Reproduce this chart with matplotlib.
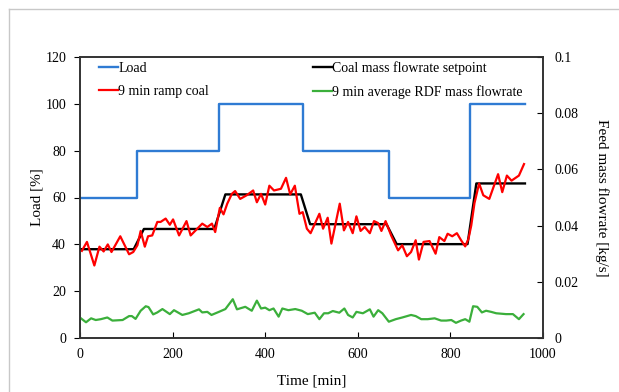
import matplotlib.pyplot as plt
from matplotlib.lines import Line2D

plt.rcParams['font.family'] = ['Liberation Serif', 'DejaVu Serif']

# load profile [%] (step edges in min)
load_t = [0, 123, 123, 300, 300, 482, 482, 667, 667, 843, 843, 961]
load_v = [60, 60, 80, 80, 100, 100, 80, 80, 60, 60, 100, 100]

# coal mass flowrate setpoint [kg/s]
set_t = [0, 116, 138, 290, 314, 477, 497, 662, 684, 837, 856, 961]
set_v = [0.0316, 0.0316, 0.0388, 0.0388, 0.0511, 0.0511, 0.0405, 0.0405,
         0.0334, 0.0334, 0.0550, 0.0550]

# 9 min ramp coal [kg/s]
coal_t = [4, 15, 31, 42, 51, 60, 68, 87, 106, 115, 124, 131, 140, 147, 156,
          167, 174, 185, 194, 201, 214, 230, 239, 264, 275, 285, 292, 302,
          310, 318, 328, 335, 346, 360, 374, 382, 391, 400, 409, 419, 434,
          445, 454, 464, 474, 481, 490, 498, 517, 525, 535, 543, 561, 570,
          579, 589, 597, 606, 615, 626, 635, 644, 651, 660, 672, 687, 696,
          706, 715, 725, 732, 742, 755, 768, 776, 787, 794, 804, 814, 823,
          832, 839, 845, 852, 862, 871, 884, 903, 912, 922, 932, 948, 959]
coal_v = [0.0310, 0.0342, 0.0258, 0.0325, 0.0308, 0.0333, 0.0306, 0.0362,
          0.0298, 0.0306, 0.0330, 0.0381, 0.0325, 0.0362, 0.0365, 0.0413,
          0.0413, 0.0425, 0.0403, 0.0422, 0.0365, 0.0416, 0.0365, 0.0407,
          0.0395, 0.0407, 0.0377, 0.0463, 0.0440, 0.0478, 0.0513, 0.0523,
          0.0495, 0.0508, 0.0525, 0.0483, 0.0513, 0.0475, 0.0542, 0.0525,
          0.0531, 0.0570, 0.0511, 0.0542, 0.0442, 0.0448, 0.0389, 0.0373,
          0.0442, 0.0389, 0.0428, 0.0336, 0.0478, 0.0383, 0.0413, 0.0373,
          0.0433, 0.0381, 0.0395, 0.0373, 0.0416, 0.0409, 0.0381, 0.0416,
          0.0365, 0.0312, 0.0330, 0.0291, 0.0306, 0.0348, 0.0279, 0.0342,
          0.0345, 0.0300, 0.0359, 0.0345, 0.0371, 0.0362, 0.0373, 0.0348,
          0.0326, 0.0353, 0.0400, 0.0480, 0.0550, 0.0508, 0.0495, 0.0583,
          0.0519, 0.0578, 0.0560, 0.0578, 0.0619]

# 9 min average RDF mass flowrate [kg/s]
rdf_t = [2, 13, 24, 34, 45, 59, 70, 92, 106, 112, 120, 131, 142, 148, 158,
         167, 178, 194, 203, 221, 235, 257, 264, 275, 284, 300, 314, 330,
         339, 357, 371, 382, 391, 400, 409, 418, 429, 437, 450, 465, 479,
         492, 507, 517, 527, 536, 546, 560, 571, 579, 589, 597, 611, 626,
         634, 644, 653, 667, 682, 696, 715, 725, 737, 751, 766, 780, 791,
         802, 812, 823, 832, 841, 849, 858, 868, 877, 888, 899, 920, 935,
         948, 958]
rdf_v = [0.0070, 0.0056, 0.0070, 0.0064, 0.0067, 0.0073, 0.0062, 0.0064,
         0.0078, 0.0078, 0.0068, 0.0097, 0.0113, 0.0110, 0.0084, 0.0091,
         0.0103, 0.0085, 0.0099, 0.0082, 0.0088, 0.0102, 0.0091, 0.0093,
         0.0082, 0.0093, 0.0103, 0.0138, 0.0102, 0.0111, 0.0097, 0.0133,
         0.0105, 0.0108, 0.0099, 0.0105, 0.0076, 0.0105, 0.0099, 0.0103,
         0.0097, 0.0085, 0.0090, 0.0067, 0.0088, 0.0088, 0.0096, 0.0090,
         0.0105, 0.0082, 0.0073, 0.0093, 0.0088, 0.0102, 0.0076, 0.0099,
         0.0088, 0.0058, 0.0067, 0.0073, 0.0082, 0.0078, 0.0067, 0.0067,
         0.0070, 0.0062, 0.0062, 0.0064, 0.0054, 0.0062, 0.0067, 0.0058,
         0.0113, 0.0111, 0.0091, 0.0097, 0.0093, 0.0088, 0.0085, 0.0085,
         0.0067, 0.0085]

blue = '#2F7BD3'
green = '#3BAF3B'

fig = plt.figure(figsize=(6.19, 3.92), dpi=100)
ax = fig.add_axes([80/619, 1-338/392, 463/619, 281/392])
ax2 = ax.twinx()

ax.plot(load_t, load_v, color=blue, lw=1.7, label='Load')
ax2.plot(set_t, set_v, color='black', lw=1.7, label='Coal mass flowrate setpoint')
ax2.plot(coal_t, coal_v, color='red', lw=1.6, label='9 min ramp coal')
ax2.plot(rdf_t, rdf_v, color=green, lw=1.6, label='9 min average RDF mass flowrate')

ax.set_xlim(0, 1000)
ax.set_ylim(0, 120)
ax2.set_ylim(0, 0.1)
ax.set_xticks(range(0, 1001, 200))
ax.set_yticks(range(0, 121, 20))
ax2.set_yticks([0, 0.02, 0.04, 0.06, 0.08, 0.1])
ax2.set_yticklabels(['0', '0.02', '0.04', '0.06', '0.08', '0.1'])

ax.tick_params(axis='x', direction='in', length=4, labelsize=10, pad=7)
ax.tick_params(axis='y', direction='out', length=4, labelsize=10, pad=6)
ax2.tick_params(axis='y', direction='in', length=4, labelsize=10, pad=8)
for a in (ax, ax2):
    for s in a.spines.values():
        s.set_color('#333333')
        s.set_linewidth(1.2)

ax.set_xlabel('Time [min]', fontsize=11, labelpad=10)
ax.set_ylabel('Load [%]', fontsize=11, labelpad=1)
ax2.set_ylabel('Feed mass flowrate [kg/s]', fontsize=11, rotation=-90, labelpad=22)

h1, l1 = ax.get_legend_handles_labels()
h2, l2 = ax2.get_legend_handles_labels()
handles = [h1[0], h2[1], h2[0], h2[2]]
labels = [l1[0], l2[1], l2[0], l2[2]]
ax.legend(handles, labels, ncol=2, loc='upper left', bbox_to_anchor=(0.029, 1.004),
          frameon=False, fontsize=10, handlelength=1.4, handletextpad=0.0,
          columnspacing=7.45, labelspacing=0.72, borderaxespad=0.0)

# light page frame
fig.add_artist(Line2D([9/619, 1], [1-9/392, 1-9/392], color='#c8c8c8', lw=1))
fig.add_artist(Line2D([9/619, 9/619], [0, 1-9/392], color='#c8c8c8', lw=1))

fig.savefig('out.png', dpi=100)
